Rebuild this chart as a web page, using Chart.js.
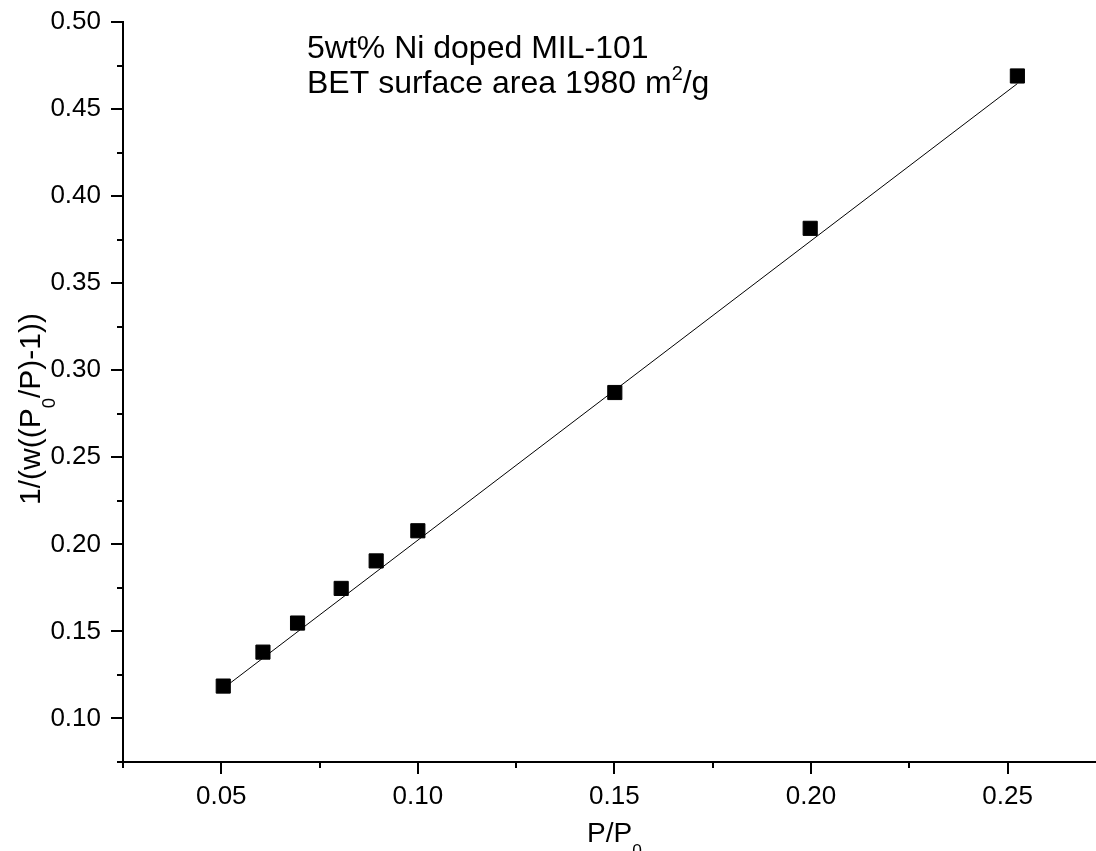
<!DOCTYPE html>
<html>
<head>
<meta charset="utf-8">
<script src="https://cdn.jsdelivr.net/npm/chart.js@4"></script>
<style>
  html, body { margin: 0; padding: 0; background: #fff; overflow: hidden; }
  #wrap { width: 1096px; height: 851px; }
</style>
</head>
<body>
<div id="wrap"><canvas id="bet" width="1096" height="851"></canvas></div>
<script>
// P/P0 and 1/(w((P0/P)-1))
const relPressure = [0.0505, 0.0606, 0.0694, 0.0805, 0.0894, 0.1000, 0.1501, 0.1998, 0.2525];
const betValue = [0.1186, 0.1381, 0.1548, 0.1747, 0.1905, 0.2078, 0.2872, 0.3815, 0.4690];

// fitted straight line, endpoints
const fitX = [0.0505, 0.2525];
const fitY = [0.1173, 0.4646];

const xTicks = [0.05, 0.10, 0.15, 0.20, 0.25];
const xMinorTicks = [0.025, 0.075, 0.125, 0.175, 0.225];
const yTicks = [0.10, 0.15, 0.20, 0.25, 0.30, 0.35, 0.40, 0.45, 0.50];
const yMinorTicks = [0.075, 0.125, 0.175, 0.225, 0.275, 0.325, 0.375, 0.425, 0.475];

const FONT = '"Liberation Sans", Arial, sans-serif';

// draws text made of parts, some raised or lowered (sub / sup)
function richWidth(ctx, parts, size) {
  let w = 0;
  parts.forEach(p => {
    const s = p.script ? size * 0.62 : size;
    ctx.font = s + 'px ' + FONT;
    w += ctx.measureText(p.text).width;
  });
  return w;
}
function drawRich(ctx, parts, x, y, size) {
  parts.forEach(p => {
    const s = p.script ? size * 0.62 : size;
    let dy = 0;
    if (p.script === 'sub') dy = size * 0.5;
    if (p.script === 'sup') dy = -size * 0.42;
    ctx.font = s + 'px ' + FONT;
    ctx.fillText(p.text, x, y + dy);
    x += ctx.measureText(p.text).width;
  });
}

const extras = {
  id: 'extras',
  afterDraw(chart) {
    const ctx = chart.ctx;
    const xs = chart.scales.x, ys = chart.scales.y;
    const area = chart.chartArea;
    ctx.save();
    ctx.strokeStyle = '#000';
    ctx.lineWidth = 2;
    ctx.beginPath();
    xTicks.forEach(v => { const px = Math.round(xs.getPixelForValue(v)); ctx.moveTo(px, area.bottom); ctx.lineTo(px, area.bottom + 12); });
    xMinorTicks.forEach(v => { const px = Math.round(xs.getPixelForValue(v)); ctx.moveTo(px, area.bottom); ctx.lineTo(px, area.bottom + 6); });
    yTicks.forEach(v => { const py = Math.round(ys.getPixelForValue(v)); ctx.moveTo(area.left, py); ctx.lineTo(area.left - 12, py); });
    yMinorTicks.forEach(v => { const py = Math.round(ys.getPixelForValue(v)); ctx.moveTo(area.left, py); ctx.lineTo(area.left - 6, py); });
    ctx.stroke();

    ctx.fillStyle = '#000';
    ctx.textBaseline = 'alphabetic';
    ctx.textAlign = 'left';

    // x axis title
    const xt = [{ text: 'P/P' }, { text: '0', script: 'sub' }];
    const xw = richWidth(ctx, xt, 28);
    drawRich(ctx, xt, (area.left + area.right) / 2 - xw / 2 + 5, 842, 28);

    // y axis title
    const yt = [{ text: '1/(w((P' }, { text: '0', script: 'sub' }, { text: '/P)-1))' }];
    const yw = richWidth(ctx, yt, 30);
    ctx.save();
    ctx.translate(40, 409);
    ctx.rotate(-Math.PI / 2);
    drawRich(ctx, yt, -yw / 2, 0, 30);
    ctx.restore();

    // annotation
    drawRich(ctx, [{ text: '5wt% Ni doped MIL-101' }], 307, 58, 32);
    drawRich(ctx, [{ text: 'BET surface area 1980 m' }, { text: '2', script: 'sup' }, { text: '/g' }], 307, 93, 32);
    ctx.restore();
  }
};

const axisGrid = { display: true, drawOnChartArea: false, drawTicks: true, tickLength: 12, tickColor: 'rgba(0,0,0,0)' };

new Chart(document.getElementById('bet'), {
  type: 'scatter',
  data: {
    datasets: [
      {
        label: 'fit',
        type: 'line',
        data: fitX.map((x, i) => ({ x: x, y: fitY[i] })),
        borderColor: '#000',
        borderWidth: 1,
        pointRadius: 0,
        fill: false,
        order: 2
      },
      {
        label: 'data',
        data: relPressure.map((x, i) => ({ x: x, y: betValue[i] })),
        pointStyle: 'rect',
        pointRadius: 10,
        pointHoverRadius: 10,
        backgroundColor: '#000',
        borderColor: '#000',
        borderWidth: 1,
        order: 1
      }
    ]
  },
  options: {
    responsive: false,
    animation: false,
    devicePixelRatio: 1,
    layout: { autoPadding: false, padding: { top: 22, right: 0, left: 0, bottom: 0 } },
    plugins: { legend: { display: false }, tooltip: { enabled: false } },
    scales: {
      x: {
        type: 'linear',
        min: 0.025,
        max: 0.2725,
        grid: axisGrid,
        border: { display: true, color: '#000', width: 2 },
        afterBuildTicks: s => { s.ticks = xTicks.map(v => ({ value: v })); },
        afterFit: s => { s.height = 89; s.paddingRight = 0; s.paddingLeft = 0; },
        ticks: {
          color: '#000',
          padding: 7,
          maxRotation: 0,
          font: { family: FONT, size: 26 },
          callback: v => v.toFixed(2)
        }
      },
      y: {
        type: 'linear',
        min: 0.075,
        max: 0.50,
        grid: axisGrid,
        border: { display: true, color: '#000', width: 2 },
        afterBuildTicks: s => { s.ticks = yTicks.map(v => ({ value: v })); },
        afterFit: s => { s.width = 123; s.paddingTop = 0; s.paddingBottom = 0; },
        ticks: {
          color: '#000',
          padding: 10,
          font: { family: FONT, size: 26 },
          callback: v => v.toFixed(2)
        }
      }
    }
  },
  plugins: [extras]
});
</script>
</body>
</html>
